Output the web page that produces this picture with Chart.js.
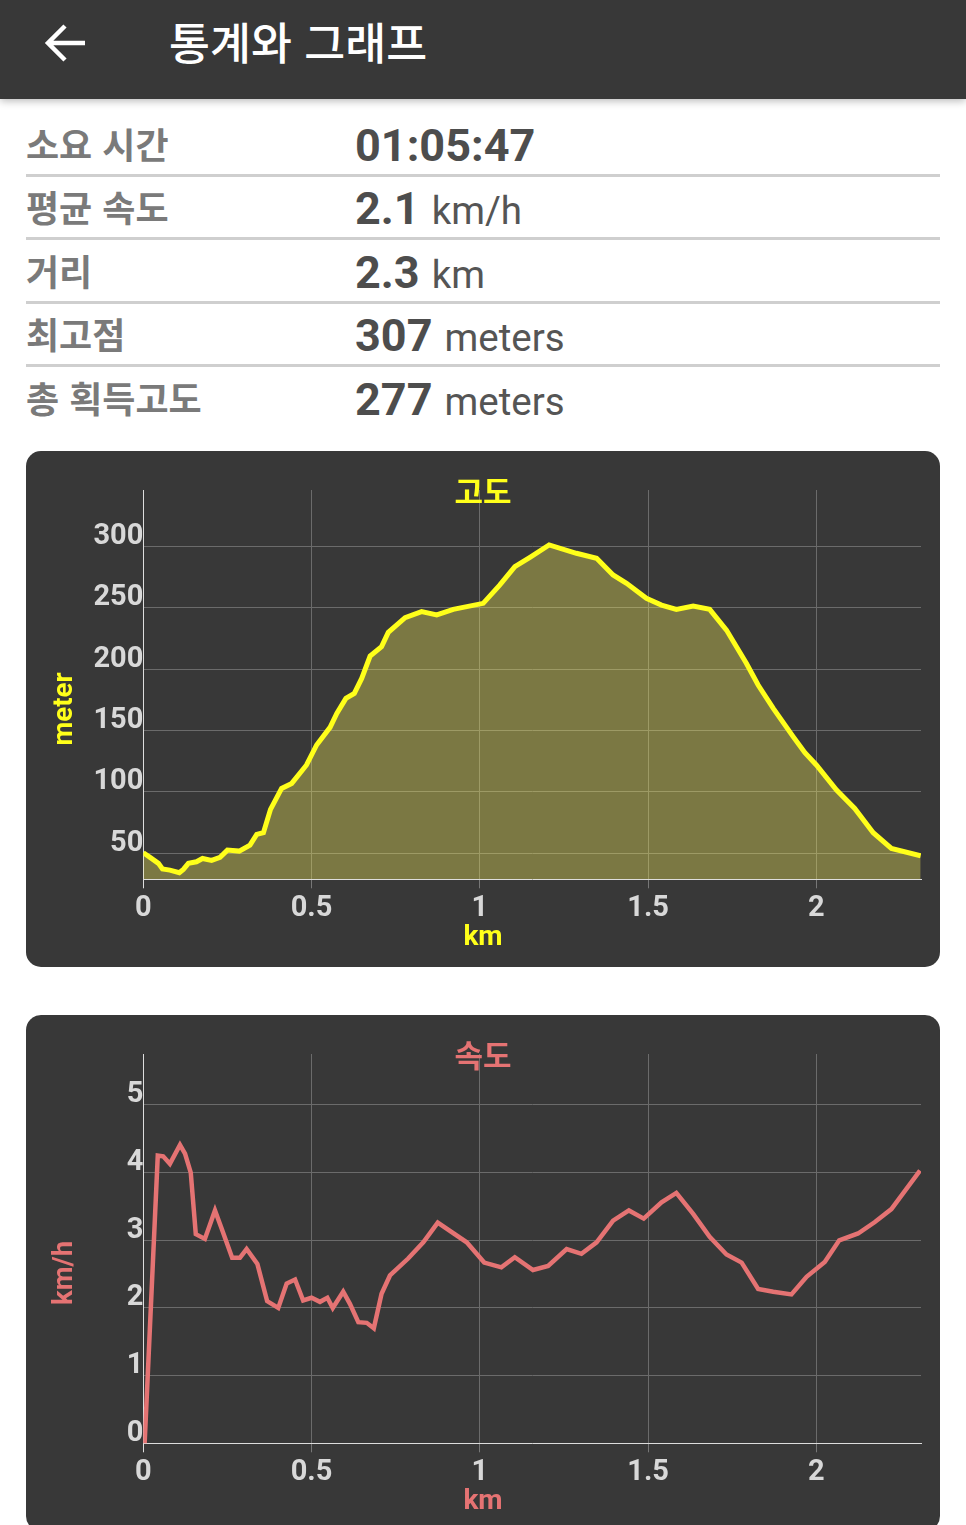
<!DOCTYPE html>
<html lang="ko">
<head>
<meta charset="UTF-8">
<title>통계와 그래프</title>
<script src="https://cdn.jsdelivr.net/npm/chart.js"></script>
<style>
    html, body { margin: 0; padding: 0; background: #fff; }
    body { position: relative; width: 966px; height: 1525px; overflow: hidden; font-family: "Noto Sans CJK KR", Roboto, sans-serif; }
    .topbar { position: absolute; left: 0; top: 0; width: 966px; height: 99px; background: #383838; box-shadow: 0 2px 8px rgba(0,0,0,.28); }
    .topbar svg { position: absolute; left: 44px; top: 22px; }
    .topbar .name { position: absolute; left: 169px; top: 10px; line-height: 62px; font-size: 44.5px; font-weight: 500; color: #fff; white-space: nowrap; }
    .row { position: absolute; left: 26px; width: 914px; height: 63px; }
    .row.line { border-bottom: 3px solid #cfcfcf; }
    .row .key { position: absolute; left: 0; top: 0; line-height: 65px; font-size: 36px; font-weight: 700; color: #7a7a7a; white-space: nowrap; }
    .row .val { position: absolute; left: 329px; top: 0; line-height: 70px; font-family: Roboto, sans-serif; font-size: 45px; font-weight: 700; color: #4d4d4d; white-space: nowrap; }
    .row .val small { font-size: 38.5px; font-weight: 400; color: #555; margin-left: 12px; }
    .card { position: absolute; left: 26px; width: 914px; height: 516px; background: #383838; border-radius: 15px; overflow: hidden; }
    .card canvas { display: block; }
</style>
</head>
<body>
    <div class="topbar">
        <svg width="44" height="42" viewBox="0 0 44 42"><path d="M41 21H6M21 4L4 21l17 17" fill="none" stroke="#fff" stroke-width="4.5"/></svg>
        <div class="name">통계와 그래프</div>
    </div>

    <div class="row line" style="top:111px"><span class="key">소요 시간</span><span class="val">01:05:47</span></div>
    <div class="row line" style="top:174px"><span class="key">평균 속도</span><span class="val">2.1<small>km/h</small></span></div>
    <div class="row line" style="top:238px"><span class="key">거리</span><span class="val">2.3<small>km</small></span></div>
    <div class="row line" style="top:301px"><span class="key">최고점</span><span class="val">307<small>meters</small></span></div>
    <div class="row" style="top:365px"><span class="key">총 획득고도</span><span class="val">277<small>meters</small></span></div>

    <div class="card" style="top:451px"><canvas id="elevChart" width="914" height="516"></canvas></div>
    <div class="card" style="top:1015px"><canvas id="speedChart" width="914" height="516"></canvas></div>

<script>
// values
const elevKm = [0, 0.02, 0.045, 0.057, 0.079, 0.107, 0.119, 0.134, 0.158, 0.176, 0.203, 0.228, 0.25, 0.285, 0.317, 0.337, 0.357, 0.378, 0.411, 0.441, 0.485, 0.515, 0.555, 0.575, 0.602, 0.627, 0.649, 0.674, 0.708, 0.728, 0.778, 0.827, 0.872, 0.921, 1.01, 1.059, 1.104, 1.149, 1.206, 1.287, 1.347, 1.396, 1.436, 1.495, 1.54, 1.584, 1.634, 1.683, 1.733, 1.792, 1.827, 1.872, 1.931, 1.966, 2.0, 2.06, 2.114, 2.169, 2.223, 2.31];
const elevM = [50.5, 46.7, 41.8, 37.2, 36.3, 34.2, 36.9, 41.8, 43.1, 45.8, 44.2, 46.7, 52.6, 51.8, 56.7, 65.4, 66.8, 85.8, 102.9, 107, 122, 138.3, 152.7, 164.1, 176.3, 180.4, 192.6, 210.8, 218.5, 230.1, 242.1, 247, 244.3, 248.9, 253.8, 268.7, 283.7, 291.3, 301.4, 294.6, 290.5, 276.9, 270.1, 257.9, 252.4, 248.9, 251.6, 248.9, 232, 204.9, 187.2, 168.2, 145.1, 132, 122, 101.6, 86.6, 66.8, 54, 48];

const speedKm = [0, 0.004, 0.043, 0.059, 0.079, 0.109, 0.124, 0.141, 0.156, 0.183, 0.213, 0.233, 0.264, 0.287, 0.307, 0.339, 0.368, 0.401, 0.426, 0.451, 0.475, 0.5, 0.525, 0.547, 0.563, 0.594, 0.614, 0.639, 0.664, 0.685, 0.708, 0.733, 0.787, 0.832, 0.875, 0.961, 1.013, 1.064, 1.104, 1.158, 1.203, 1.258, 1.302, 1.347, 1.396, 1.443, 1.487, 1.54, 1.584, 1.634, 1.683, 1.733, 1.778, 1.827, 1.872, 1.926, 1.971, 2.025, 2.068, 2.124, 2.174, 2.223, 2.308];
const speedKmh = [0, 0, 4.25, 4.24, 4.13, 4.41, 4.28, 4.0, 3.09, 3.02, 3.44, 3.17, 2.74, 2.74, 2.87, 2.65, 2.1, 2.0, 2.36, 2.42, 2.11, 2.15, 2.09, 2.15, 2.0, 2.24, 2.06, 1.79, 1.78, 1.7, 2.21, 2.48, 2.73, 2.97, 3.26, 2.97, 2.67, 2.6, 2.75, 2.56, 2.62, 2.87, 2.8, 2.97, 3.29, 3.44, 3.32, 3.56, 3.7, 3.39, 3.05, 2.79, 2.67, 2.28, 2.24, 2.2, 2.46, 2.68, 3.0, 3.1, 3.27, 3.46, 4.03];

const xMax = 2.311;
const elevTitle = '고도', elevUnit = 'meter';
const speedTitle = '속도', speedUnit = 'km/h';
const xUnit = 'km';

const YELLOW = '#ffff1a';
const PINK = '#e57373';
const tickFont = { family: 'Roboto', size: 29, weight: '700' };

// rotated unit label, centred on the card rather than on the plot
const unitLabel = {
    id: 'unitLabel',
    afterDraw(chart, args, opts) {
        const ctx = chart.ctx;
        ctx.save();
        ctx.translate(39, opts.y);
        ctx.rotate(-Math.PI / 2);
        ctx.font = '700 27.5px Roboto';
        ctx.fillStyle = opts.color;
        ctx.textAlign = 'center';
        ctx.textBaseline = 'middle';
        ctx.fillText(opts.text, 0, 0);
        ctx.restore();
    }
};

function makeChart(id, cfg) {
    return new Chart(document.getElementById(id), {
        type: 'line',
        data: {
            datasets: [{
                data: cfg.xs.map((x, i) => ({ x: x, y: cfg.ys[i] })),
                borderColor: cfg.color,
                borderWidth: cfg.lineWidth,
                backgroundColor: cfg.fillColor,
                fill: cfg.fillColor ? 'start' : false,
                pointRadius: 0,
                tension: 0
            }]
        },
        options: {
            responsive: false,
            animation: false,
            // equal left/right so the title blocks stay centred on the card
            layout: { padding: { left: 19, right: 19 } },
            plugins: {
                legend: { display: false },
                tooltip: { enabled: false },
                title: {
                    display: true,
                    text: cfg.title,
                    color: cfg.color,
                    font: { family: 'Noto Sans CJK KR', size: 31, weight: '700', lineHeight: 1.2 },
                    padding: { top: 22, bottom: -20.2 }
                },
                subtitle: {
                    display: true,
                    position: 'bottom',
                    text: xUnit,
                    color: cfg.color,
                    font: { family: 'Roboto', size: 28, weight: '700', lineHeight: 1.2 },
                    padding: { top: 1, bottom: 12.4 }
                },
                unitLabel: { text: cfg.unit, color: cfg.color, y: cfg.unitY }
            },
            scales: {
                x: {
                    type: 'linear',
                    min: 0,
                    max: xMax,
                    afterFit(scale) { scale.height = 40.7; },
                    grid: {
                        color: '#6b6b6b',
                        tickLength: 9,
                        tickColor: ctx => ctx.tick && ctx.tick.value === 0 ? '#ddd' : '#777'
                    },
                    border: { color: '#ddd', width: 1 },
                    ticks: {
                        stepSize: 0.5,
                        includeBounds: false,
                        autoSkip: false,
                        maxRotation: 0,
                        padding: 3,
                        color: '#d8d8d8',
                        font: tickFont,
                        callback: v => String(v)
                    }
                },
                y: {
                    min: cfg.yMin,
                    max: cfg.yMax,
                    afterFit(scale) { scale.width = 98.3; },
                    grid: { color: '#6b6b6b', drawTicks: false },
                    border: { color: '#ddd', width: 1 },
                    ticks: {
                        stepSize: cfg.yStep,
                        includeBounds: false,
                        padding: 0,
                        labelOffset: -10,
                        color: '#d8d8d8',
                        font: tickFont
                    }
                }
            }
        },
        plugins: [unitLabel]
    });
}

makeChart('elevChart', {
    xs: elevKm, ys: elevM, color: YELLOW, fillColor: 'rgba(255,245,90,0.34)', lineWidth: 5,
    title: elevTitle, unit: elevUnit, unitY: 258,
    yMin: 28.8, yMax: 346.2, yStep: 50
});

makeChart('speedChart', {
    xs: speedKm, ys: speedKmh, color: PINK, fillColor: null, lineWidth: 4.5,
    title: speedTitle, unit: speedUnit, unitY: 258,
    yMin: 0, yMax: 5.752, yStep: 1
});
</script>
</body>
</html>
